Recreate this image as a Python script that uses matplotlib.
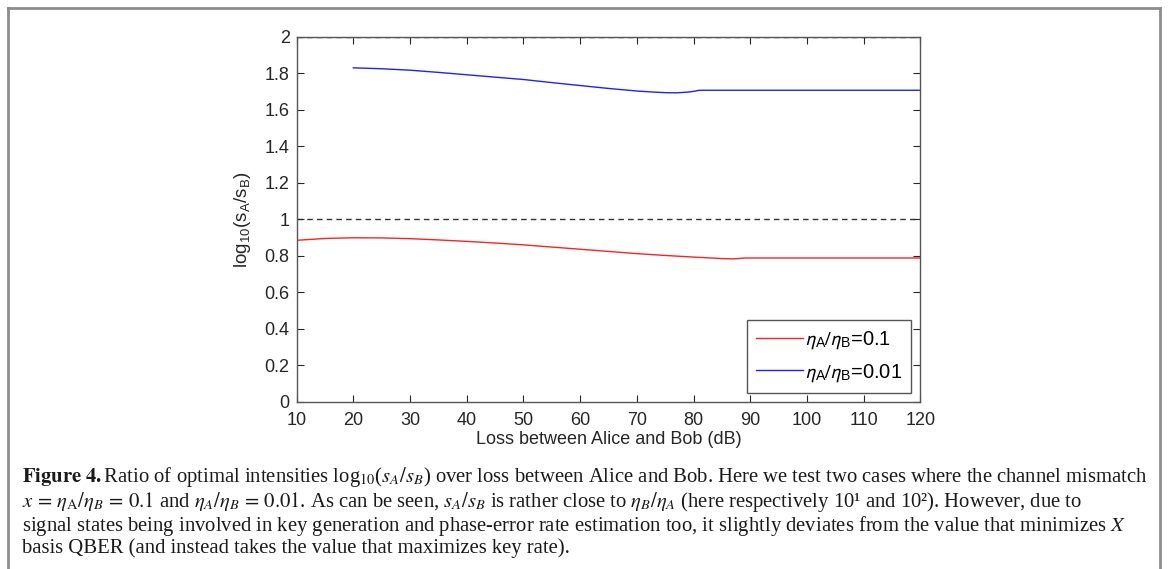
#!/usr/bin/env python3
"""Ratio of optimal intensities log10(sA/sB) vs loss, with figure caption."""

import matplotlib

matplotlib.use("Agg")
import matplotlib.pyplot as plt
from matplotlib.lines import Line2D

# loss between Alice and Bob (dB) and log10(sA/sB)
LOSS_01 = [10, 15, 20, 25, 30, 35, 40, 45, 50, 55, 60, 65, 70, 75, 80, 85, 87,
           89, 90, 100, 110, 120]
RATIO_01 = [0.886, 0.896, 0.900, 0.899, 0.895, 0.888, 0.880, 0.871, 0.861,
            0.849, 0.837, 0.825, 0.813, 0.803, 0.794, 0.786, 0.784, 0.789,
            0.789, 0.789, 0.789, 0.789]

LOSS_001 = [20, 25, 30, 35, 40, 45, 50, 55, 60, 65, 70, 73, 75, 77, 79, 80,
            81, 90, 100, 110, 120]
RATIO_001 = [1.831, 1.826, 1.818, 1.806, 1.793, 1.780, 1.767, 1.750, 1.734,
             1.718, 1.704, 1.698, 1.695, 1.694, 1.698, 1.702, 1.708, 1.708,
             1.708, 1.708, 1.708]

LABELS = [r"$\eta_\mathregular{A}/\eta_\mathregular{B}$=0.1",
          r"$\eta_\mathregular{A}/\eta_\mathregular{B}$=0.01"]
REF_LEVELS = [1, 2]

CAPTION = [
    r"$\mathbf{Figure\ 4.}$Ratio of optimal intensities log$_{10}$($s_A/s_B$) "
    r"over loss between Alice and Bob. Here we test two cases where the channel mismatch",
    r"$x\,=\,\eta_\mathrm{A}/\eta_B\,=\,0.1$ and $\eta_A/\eta_B\,=\,0.01$. As can be seen, "
    r"$s_A/s_B$ is rather close to $\eta_B/\eta_A$ (here respectively 10¹ and 10²). However, due to",
    r"signal states being involved in key generation and phase-error rate estimation too, "
    r"it slightly deviates from the value that minimizes $X$",
    r"basis QBER (and instead takes the value that maximizes key rate).",
]

AX_GRAY = "#262626"
SERIF = ["Liberation Serif", "DejaVu Serif"]


def main():
    plt.rcParams.update(
        {
            "font.family": ["Liberation Sans", "DejaVu Sans"],
            "font.size": 13,
            "xtick.direction": "in",
            "ytick.direction": "in",
            "xtick.top": True,
            "ytick.right": True,
            "xtick.major.size": 5,
            "ytick.major.size": 5,
            "xtick.color": AX_GRAY,
            "ytick.color": AX_GRAY,
            "axes.edgecolor": "#555555",
            "axes.linewidth": 1.0,
        }
    )

    fig = plt.figure(figsize=(11.68, 5.69), dpi=100)
    ax = fig.add_axes([0.254, 0.2935, 0.534, 0.6415])

    for lvl in REF_LEVELS:
        ax.axhline(lvl, color="#333333", linestyle=(0, (4, 3)), linewidth=1.0,
                   zorder=1)
    ax.plot(LOSS_01, RATIO_01, color="#ff2020", linewidth=1.0, label=LABELS[0])
    ax.plot(LOSS_001, RATIO_001, color="#2020ff", linewidth=1.0, label=LABELS[1])

    ax.set_xlim(10, 120)
    ax.set_ylim(0, 2)
    ax.set_xticks(range(10, 121, 10))
    ax.set_yticks([0, 0.2, 0.4, 0.6, 0.8, 1, 1.2, 1.4, 1.6, 1.8, 2])
    ax.set_yticklabels(["0", "0.2", "0.4", "0.6", "0.8", "1", "1.2", "1.4",
                        "1.6", "1.8", "2"])
    ax.tick_params(axis="y", labelsize=13, pad=5)
    ax.tick_params(axis="x", labelsize=13, pad=7)
    ax.set_xlabel("Loss between Alice and Bob (dB)", fontsize=13,
                  color=AX_GRAY, labelpad=2)
    ax.set_ylabel(r"log$_\mathregular{10}$(s$_\mathregular{A}$/s$_\mathregular{B}$)",
                  fontsize=13.5, color=AX_GRAY, labelpad=8)

    leg = ax.legend(loc="lower right", bbox_to_anchor=(0.985, 0.025),
                    borderaxespad=0, fancybox=False, framealpha=1,
                    edgecolor="#555555", handlelength=2.3,
                    handletextpad=0.1, borderpad=0.45, labelspacing=0.55,
                    prop={"family": ["Liberation Sans"], "size": 14.5,
                          "math_fontfamily": "stixsans"})
    leg.get_frame().set_linewidth(1.0)

    # outer frame of the figure panel (open at the bottom)
    frame = dict(color="#8c8c8c", linewidth=2.0, transform=fig.transFigure)
    l, r, t = 8 / 1168, 1160 / 1168, 1 - 8 / 569
    fig.add_artist(Line2D([l, l], [-0.05, t], **frame))
    fig.add_artist(Line2D([r, r], [-0.05, t], **frame))
    fig.add_artist(Line2D([l, r], [t, t], **frame))

    # caption: font sized so the first (justified) line spans the panel;
    # lines stacked at ~19.6 px pitch, pushed down only if they would touch
    W, H = 1168, 569
    x0, x1 = 22 / W, 1146 / W
    renderer = fig.canvas.get_renderer()
    probe = fig.text(0, 0, CAPTION[0], fontsize=12, family=SERIF,
                     math_fontfamily="stix")
    size = 12 * (x1 - x0) * W / probe.get_window_extent(renderer).width
    probe.remove()

    base = H - 482.0
    prev_bottom = None
    for txt in CAPTION:
        t_ = fig.text(x0, base / H, txt, ha="left", va="baseline",
                      fontsize=size, color="#1a1a1a", family=SERIF,
                      math_fontfamily="stix")
        bb = t_.get_window_extent(renderer)
        if prev_bottom is not None and bb.y1 > prev_bottom - 0.5:
            base -= bb.y1 - prev_bottom + 0.5
            t_.set_y(base / H)
            bb = t_.get_window_extent(renderer)
        prev_bottom = bb.y0
        base -= 19.6

    fig.savefig("out.png", dpi=100)
    plt.close(fig)


if __name__ == "__main__":
    main()
